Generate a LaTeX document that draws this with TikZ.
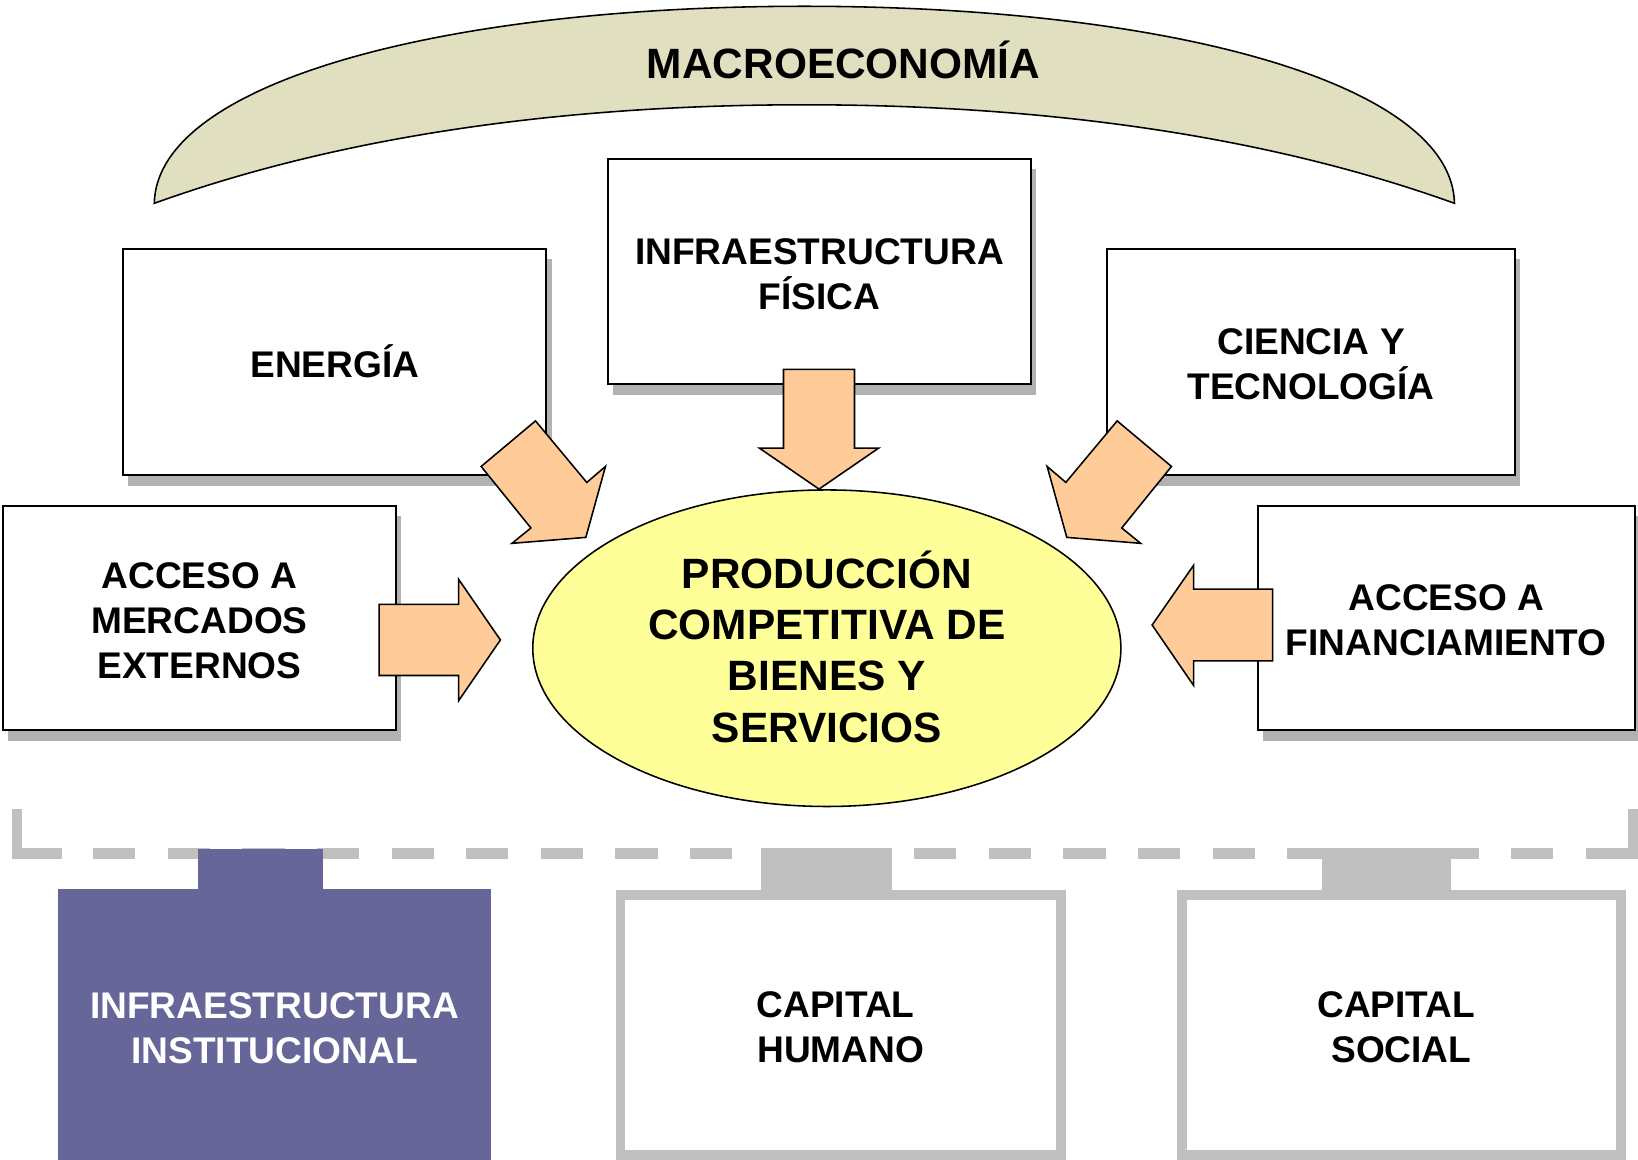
\documentclass[tikz,border=0pt]{standalone}
\usepackage{fontspec}
\setmainfont{Liberation Sans}
\usetikzlibrary{shadows,shapes.geometric}
\definecolor{macrofill}{HTML}{E0E0C0}
\definecolor{arrowfill}{HTML}{FFCC99}
\definecolor{ellfill}{HTML}{FFFF99}
\definecolor{shadowgray}{HTML}{B2B2B2}
\definecolor{dashgray}{HTML}{C0C0C0}
\definecolor{purplebox}{HTML}{666699}
\newcommand\bxfont{\fontsize{17.75}{21.5}\selectfont\bfseries}
\newcommand\elfont{\fontsize{20.3}{24.5}\selectfont\bfseries}
\newcommand\tstrut{\rule{0pt}{\dimexpr 0.716em+2pt\relax}}
\tikzset{
  stdbox/.style={draw=black, line width=1pt, fill=white, inner sep=0pt, align=center, font=\bxfont,
    drop shadow={shadow xshift=2.5pt, shadow yshift=-5pt, fill=shadowgray, opacity=1}},
  graybox/.style={draw=dashgray, line width=4.75pt, fill=white, inner sep=0pt, align=center, font=\bxfont},
  purplestyle/.style={fill=purplebox, inner sep=0pt, align=center, font=\bxfont, text=white},
  blockarrow/.style={draw=black, line width=0.75pt, fill=arrowfill, line join=miter},
  crescent/.style={draw=black, line width=0.75pt, fill=macrofill},
  bracket/.style={draw=dashgray, line width=5pt},
  tabfill/.style={fill=dashgray}
}
\begin{document}
\begin{tikzpicture}[x=0.5pt,y=-0.5pt]
\useasboundingbox (0,0) rectangle (1568,1110);
\fill[white] (0,0) rectangle (1568,1110);

% Macroeconomia crescent
\draw[crescent] (147.7,194.6) .. controls (150,80) and (420,6) .. (770,6)
  .. controls (1120,6) and (1390,80) .. (1392.3,194.6)
  .. controls (1192.3,122.6) and (970,100.3) .. (770,100.3)
  .. controls (570,100.3) and (347.7,122.6) .. cycle;
\node[font=\elfont, anchor=base, inner sep=0pt] (macro) at (807.5,75) {MACROECONOM\smash{Í}A};

% boxes
\node[stdbox, minimum width=202.5pt, minimum height=108pt] (infra) at (784.5,260) {\tstrut INFRAESTRUCTURA\\FÍSICA};
\node[stdbox, minimum width=202.5pt, minimum height=108.5pt] (energia) at (320.5,346.5) {\tstrut ENERG\smash{Í}A};
\node[stdbox, minimum width=195pt, minimum height=108.5pt] (ciencia) at (1255,346.5) {\tstrut CIENCIA Y\\TECNOLOGÍA};
\node[stdbox, minimum width=188pt, minimum height=107.5pt] (mercados) at (191,591.5) {\tstrut ACCESO A\\MERCADOS\\EXTERNOS};
\node[stdbox, minimum width=180.5pt, minimum height=107.5pt] (financ) at (1384.5,591.5) {\tstrut ACCESO A\\FINANCIAMIENTO};

% central ellipse
\node[ellipse, draw=black, line width=0.75pt, fill=ellfill, minimum width=281.5pt, minimum height=151.5pt,
  inner sep=0pt, align=center, font=\elfont] (prod) at (791.5,620.5)
  {\tstrut PRODUCCI\smash{Ó}N\\COMPETITIVA DE\\BIENES Y\\SERVICIOS};

% block arrows
\draw[blockarrow] (750,353.5) -- (818,353.5) -- (818,429) -- (841,429) -- (784,468.2) -- (727,429) -- (750,429) -- cycle;
\draw[blockarrow] (363,578.6) -- (439,578.6) -- (439,554.5) -- (479,612.6) -- (439,670.8) -- (439,646.6) -- (363,646.6) -- cycle;
\draw[blockarrow] (1218.3,564) -- (1142.6,564) -- (1142.6,541.1) -- (1102.9,598.3) -- (1142.6,656.2) -- (1142.6,632.7) -- (1218.3,632.7) -- cycle;
\draw[blockarrow] (512.6,402.9) -- (460.6,446.5) -- (508.2,505.4) -- (490.1,520.1) -- (560.8,514.4) -- (579.6,446.5) -- (561.7,461.8) -- cycle;
\draw[blockarrow] (1069.4,402.9) -- (1121.4,446.5) -- (1073.8,505.4) -- (1091.9,520.1) -- (1021.2,514.4) -- (1002.4,446.5) -- (1020.3,461.8) -- cycle;

% dashed bracket
\draw[bracket] (16.5,774) -- (16.5,817) -- (59,817);
\draw[bracket, dash pattern=on 20.25pt off 15.475pt] (89,817) -- (1518,817);
\draw[bracket] (1518,817) -- (1563.5,817) -- (1563.5,774);

% tabs
\fill[purplebox] (190,812.6) rectangle (309,853);
\fill[tabfill] (728,812) rectangle (854,857);
\fill[tabfill] (1265.3,812) rectangle (1389,857);

% bottom boxes
\node[purplestyle, minimum width=207pt, minimum height=130.4pt] (inst) at (262.85,981.6) {\tstrut INFRAESTRUCTURA\\INSTITUCIONAL};
\node[graybox, minimum width=210.85pt, minimum height=124.6pt] (humano) at (804.85,980.9) {\tstrut CAPITAL\hspace*{0.278em}\\HUMANO};
\node[graybox, minimum width=209.85pt, minimum height=124.6pt] (social) at (1341.45,980.9) {\tstrut CAPITAL\hspace*{0.278em}\\SOCIAL};
\end{tikzpicture}
\end{document}
